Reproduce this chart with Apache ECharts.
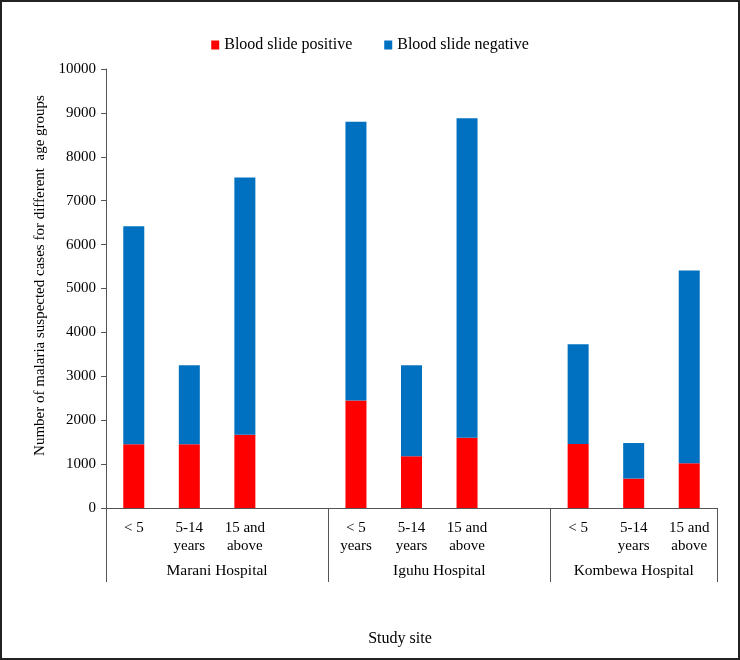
<!DOCTYPE html>
<html><head><meta charset="utf-8">
<script src="https://cdn.jsdelivr.net/npm/echarts@6/dist/echarts.min.js"></script>
<style>html,body{margin:0;padding:0;background:#fff}#c{width:740px;height:660px}</style>
</head><body><div id="c"></div>
<script>
const categories = ['< 5','5-14\nyears','15 and\nabove','', '< 5\nyears','5-14\nyears','15 and\nabove','', '< 5','5-14\nyears','15 and\nabove'];
const groups = ['Marani Hospital','Iguhu Hospital','Kombewa Hospital'];
const groupSizes = [4,4,3];
const positive = [1450,1450,1670,null, 2450,1180,1600,null, 1460,670,1020];
const negative = [4970,1800,5860,null, 6350,2070,7280,null, 2270,810,4390];
const yTicks = {min:0, max:10000, interval:1000};

const bounds = [0]; groupSizes.forEach(s => bounds.push(bounds[bounds.length-1]+s));
const centers = groupSizes.map((s,i) => bounds[i] + (i===2 ? s/2 : 3/2 + 0.5));
const font = 'Liberation Serif';
const chart = echarts.init(document.getElementById('c'));
chart.setOption({
  animation:false,
  textStyle:{fontFamily:font},
  graphic:[{type:'rect',shape:{x:1,y:1,width:738,height:658},style:{fill:'none',stroke:'#222',lineWidth:2},silent:true}],
  title:{text:'Study site',left:395,top:626,textAlign:'center',textStyle:{fontFamily:font,fontSize:16,fontWeight:'normal',color:'#000'}},
  legend:{top:32,left:'center',itemWidth:8,itemHeight:9,itemGap:32,icon:'rect',
    textStyle:{fontFamily:font,fontSize:16,color:'#000'},data:['Blood slide positive','Blood slide negative']},
  grid:{left:106,top:69,right:23,bottom:152},
  xAxis:[{type:'category',data:categories,
      axisLine:{lineStyle:{color:'#555'}},axisTick:{show:false},
      axisLabel:{interval:0,fontFamily:font,fontSize:15,color:'#000',margin:11,lineHeight:18}},
    {type:'value',min:0,max:11,position:'bottom',gridIndex:0,
      axisLine:{show:false},splitLine:{show:false},
      axisTick:{show:true,customValues:bounds,length:74,lineStyle:{color:'#555'}},
      axisLabel:{customValues:centers,margin:55,fontFamily:font,fontSize:15.5,color:'#000',
        formatter:v=>{const i=centers.indexOf(v);return i>=0?groups[i]:'';}}}],
  yAxis:{type:'value',min:yTicks.min,max:yTicks.max,interval:yTicks.interval,
    name:'Number of malaria suspected cases for different  age groups',nameLocation:'middle',nameGap:54,
    nameTextStyle:{fontFamily:font,fontSize:15,color:'#000',padding:[0,0,0,26]},
    axisLine:{show:true,lineStyle:{color:'#555'}},axisTick:{show:true,length:5,lineStyle:{color:'#555'}},
    splitLine:{show:false},axisLabel:{fontFamily:font,fontSize:15,color:'#000',margin:10,formatter:v=>String(v)}},
  series:[
    {name:'Blood slide positive',type:'bar',stack:'s',data:positive,barWidth:21,itemStyle:{color:'#FF0000'}},
    {name:'Blood slide negative',type:'bar',stack:'s',data:negative,barWidth:21,itemStyle:{color:'#0070C0'}}
  ]
});
</script></body></html>
